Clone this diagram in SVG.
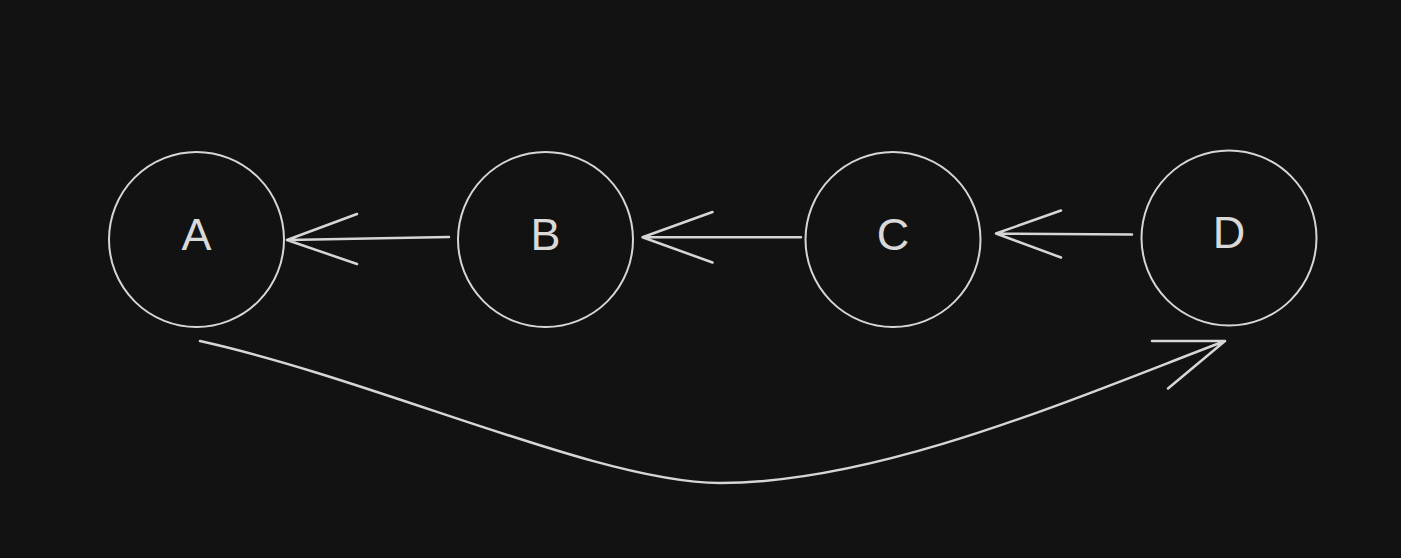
<svg xmlns="http://www.w3.org/2000/svg" width="1401" height="558" viewBox="0 0 1401 558">
<style>
.node circle{fill:none;stroke:#d6d6d6;stroke-width:2}
.node text{font-family:"Liberation Sans",Arial,sans-serif;font-size:45px;fill:#d9d9d9;text-anchor:middle}
.edges path{fill:none;stroke:#d6d6d6;stroke-width:2.5;stroke-linecap:round;stroke-linejoin:round}
</style>
<rect width="1401" height="558" fill="#121212"/>
<g id="node-A" class="node"><circle cx="196.5" cy="239.5" r="87.5"/><text x="196.5" y="249.5">A</text></g>
<g id="node-B" class="node"><circle cx="545.5" cy="239.5" r="87.5"/><text x="545.5" y="249.5">B</text></g>
<g id="node-C" class="node"><circle cx="893" cy="239.5" r="87.5"/><text x="893" y="249.5">C</text></g>
<g id="node-D" class="node"><circle cx="1229" cy="238" r="87.5"/><text x="1229" y="248">D</text></g>
<g id="edges" class="edges">
<path d="M449 237 L287 240 M357 214 L287 240 L357 264"/>
<path d="M801 237.3 L642.5 237.3 M712.5 212 L642.5 237.3 L712.5 262.5"/>
<path d="M1132 234.5 L996 233.5 M1061 210.5 L996 233.5 L1061 257.5"/>
<path d="M200 341 C380 381 600 483 720 483 C880 483 1075 398 1225 341 M1152 341 L1225 341 L1168 388.5"/>
</g>
</svg>
